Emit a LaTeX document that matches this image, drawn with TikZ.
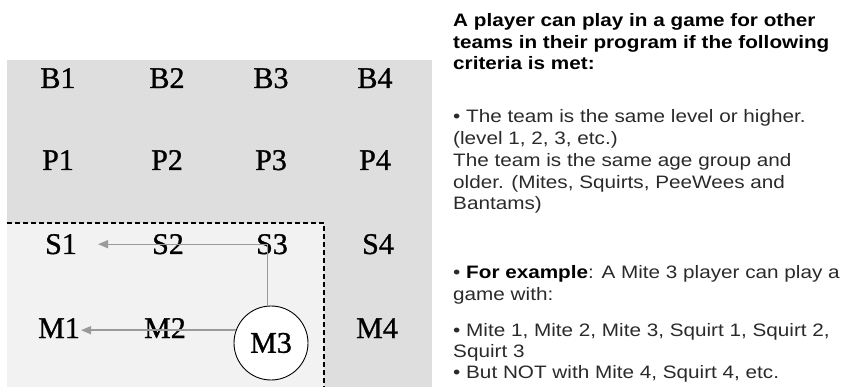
\documentclass[tikz,border=0pt]{standalone}
\usepackage{fontspec}
\setmainfont{Liberation Serif}
\newfontfamily\teamfont[FakeBold=1]{Liberation Serif}
\newfontfamily\arialfont[FakeStretch=1.15]{Liberation Sans}
\usetikzlibrary{arrows.meta}
\definecolor{outergray}{HTML}{DEDEDE}
\definecolor{innergray}{HTML}{F2F2F2}
\definecolor{linegray}{HTML}{9A9A9A}
\definecolor{bodytext}{HTML}{2A2A2A}
\tikzset{
  team/.style={anchor=base, inner sep=1pt, font=\teamfont\fontsize{30}{34}\selectfont},
  conn/.style={draw=linegray, line width=1.4pt, -{Triangle[length=10pt,width=8pt]}},
  hline/.style={anchor=base west, inner sep=0pt, font=\arialfont\bfseries\fontsize{18}{21}\selectfont, text=black},
  bline/.style={anchor=base west, inner sep=0pt, font=\arialfont\fontsize{18}{21}\selectfont, text=bodytext},
}
\begin{document}
\begin{tikzpicture}[x=1pt,y=-1pt]
\useasboundingbox (0,0) rectangle (843,387);
\fill[outergray] (7,60) rectangle (432,387);
\fill[innergray] (7,223) rectangle (324,387);
\draw[dashed, line width=1.1pt, dash pattern=on 5pt off 3pt] (7,223) -- (324,223) -- (324,387);

\node[team] (B1) at (58,88) {B1};
\node[team] (B2) at (167,88) {B2};
\node[team] (B3) at (271,88) {B3};
\node[team] (B4) at (375,88) {B4};
\node[team] (P1) at (58,170) {P1};
\node[team] (P2) at (167,170) {P2};
\node[team] (P3) at (271,170) {P3};
\node[team] (P4) at (375,170) {P4};
\node[team] (S1) at (61,254) {S1};
\node[team] (S2) at (168,254) {S2};
\node[team] (S3) at (272,254) {S3};
\node[team] (S4) at (378,254) {S4};
\node[team] (M1) at (59,338) {M1};
\node[team] (M2) at (165,338) {M2};
\node[team] (M4) at (377,338) {M4};
\node[circle, draw=black, line width=0.9pt, fill=white, minimum size=74pt, inner sep=0pt, font=\teamfont\fontsize{30}{34}\selectfont] (M3) at (271,343) {M3};

\draw[conn, shorten >=20pt] (M3.95) |- (S1.east);
\draw[conn] (M3.160) -- (M3.160 -| M1.east);

\node[hline] (h1) at (453,27) {A player can play in a game for other};
\node[hline] (h2) at (453,48.5) {teams in their program if the following};
\node[hline] (h3) at (453,70) {criteria is met:};

\node[bline] (a1) at (453,123) {• The team is the same level or higher.};
\node[bline] (a2) at (453,145) {(level 1, 2, 3, etc.)};
\node[bline] (a3) at (453,167) {The team is the same age group and};
\node[bline] (a4) at (453,188.5) {older. (Mites, Squirts, PeeWees and};
\node[bline] (a5) at (453,210) {Bantams)};

\node[bline] (e1) at (453,279) {• \textbf{\textcolor{black}{For example}}: A Mite 3 player can play a};
\node[bline] (e2) at (453,300.5) {game with:};

\node[bline] (m1) at (453,336) {• Mite 1, Mite 2, Mite 3, Squirt 1, Squirt 2,};
\node[bline] (m2) at (453,357) {Squirt 3};
\node[bline] (m3) at (453,378) {• But NOT with Mite 4, Squirt 4, etc.};
\end{tikzpicture}
\end{document}
